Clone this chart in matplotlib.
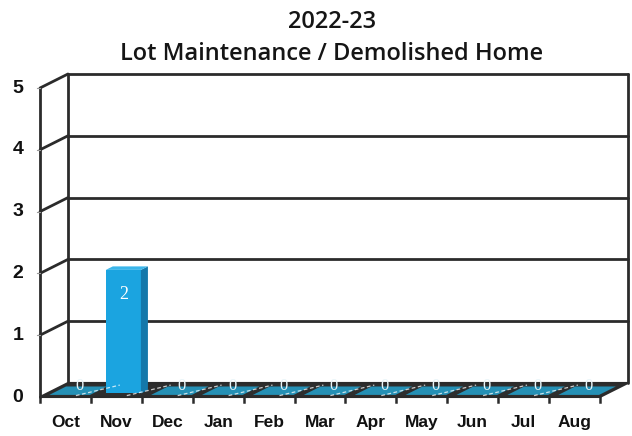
import matplotlib
matplotlib.use('Agg')
import matplotlib.pyplot as plt
from matplotlib.patches import Polygon

months = ['Oct', 'Nov', 'Dec', 'Jan', 'Feb', 'Mar', 'Apr', 'May', 'Jun', 'Jul', 'Aug']
counts = [0, 2, 0, 0, 0, 0, 0, 0, 0, 0, 0]
yticks = [0, 1, 2, 3, 4, 5]
title = '2022-23\nLot Maintenance / Demolished Home'

# fake 3d: depth offset of the back wall in (category, value) units
DX, DY = 0.55, 0.227
YMAX = 5
BAR_W = 0.69
D0, D1 = 0.25, 0.5   # bar sits between these depth fractions

face = '#1ba4e0'
side = '#1478aa'
top = '#3bb6ea'
slab = '#2590b5'
floor_c = '#2e2e2e'
line_c = '#2b2b2b'

plt.rcParams['font.family'] = ['Liberation Sans', 'DejaVu Sans']

fig = plt.figure(figsize=(6.32, 4.36), dpi=100)
ax = fig.add_axes([0, 0, 1, 1])
ax.set_xlim(-0.786, 11.63)
ax.set_ylim(-0.631, 6.424)
ax.axis('off')

n = len(months)


def p(x, v, d):
    return (x + d * DX, v + d * DY)


# floor
ax.add_patch(Polygon([p(0, 0, 0), p(n, 0, 0), p(n, 0, 1), p(0, 0, 1)],
                     closed=True, fc=floor_c, ec=line_c, lw=1.5, zorder=1))

# walls and gridlines
kw = dict(color=line_c, lw=2.0, zorder=2, solid_capstyle='round')
ax.plot(*zip(p(0, 0, 0), p(0, YMAX, 0)), **kw)
ax.plot(*zip(p(0, 0, 1), p(0, YMAX, 1)), **kw)
ax.plot(*zip(p(n, 0, 1), p(n, YMAX, 1)), **kw)
for v in yticks[1:]:
    ax.plot(*zip(p(0, v, 0), p(0, v, 1)), **kw)
    ax.plot(*zip(p(0, v, 1), p(n, v, 1)), **kw)
    ax.plot(*zip((-0.05, v), (0, v)), color='#999999', lw=0.8, zorder=2)

# slabs for zero values, bars otherwise
for i, (m, c) in enumerate(zip(months, counts)):
    x0 = i + 0.5 - BAR_W / 2
    x1 = i + 0.5 + BAR_W / 2
    if c > 0:
        ax.add_patch(Polygon([p(x0, 0, D0), p(x1, 0, D0), p(x1, c, D0), p(x0, c, D0)],
                             fc=face, ec='none', zorder=4))
        ax.add_patch(Polygon([p(x1, 0, D0), p(x1, 0, D1), p(x1, c, D1), p(x1, c, D0)],
                             fc=side, ec='none', zorder=4))
        ax.add_patch(Polygon([p(x0, c, D0), p(x1, c, D0), p(x1, c, D1), p(x0, c, D1)],
                             fc=top, ec='none', zorder=4))
        lx, ly = p(i + 0.5, c * 0.8, D0)
        ax.text(lx, ly, str(c), color='white', fontsize=13, ha='center', va='center',
                family='Liberation Serif', zorder=5)
    else:
        sx0 = i + 0.5 - 0.4
        sx1 = i + 0.5 + 0.4
        ax.add_patch(Polygon([p(sx0, 0, 0.15), p(sx1, 0, 0.15), p(sx1, 0, 0.75), p(sx0, 0, 0.75)],
                             fc=slab, ec='none', zorder=4))
        lx, ly = p(i + 0.5, 0.06, 0.5)
        ax.text(lx, ly, str(c), color='#e8f4f8', fontsize=12, ha='center', va='center',
                family='Liberation Serif', zorder=5)

# faint dashed separators on the floor
for i in range(1, n):
    ax.plot(*zip(p(i - 0.35, 0, 0.1), p(i + 0.1, 0, 0.85)), color='white',
            lw=0.9, ls=(0, (3, 2)), alpha=0.75, zorder=4.5)

# category ticks and labels
for i in range(n + 1):
    ax.plot([i, i], [0, -0.08], color=line_c, lw=1.8, zorder=2)
for i, m in enumerate(months):
    ax.text(i + 0.5, -0.42, m, fontsize=12.5, fontweight='bold', ha='center',
            va='center', color='#111111')

# value axis labels
for v in yticks:
    ax.text(-0.43, v, str(v), fontsize=14, fontweight='bold', ha='center',
            va='center', color='#111111')

fig.text(0.525, 0.912, title, fontsize=17, ha='center', va='center',
         family=['Open Sans', 'Liberation Sans'], fontweight='semibold',
         linespacing=1.45, color='#151515')

fig.savefig('out.png', dpi=100)
